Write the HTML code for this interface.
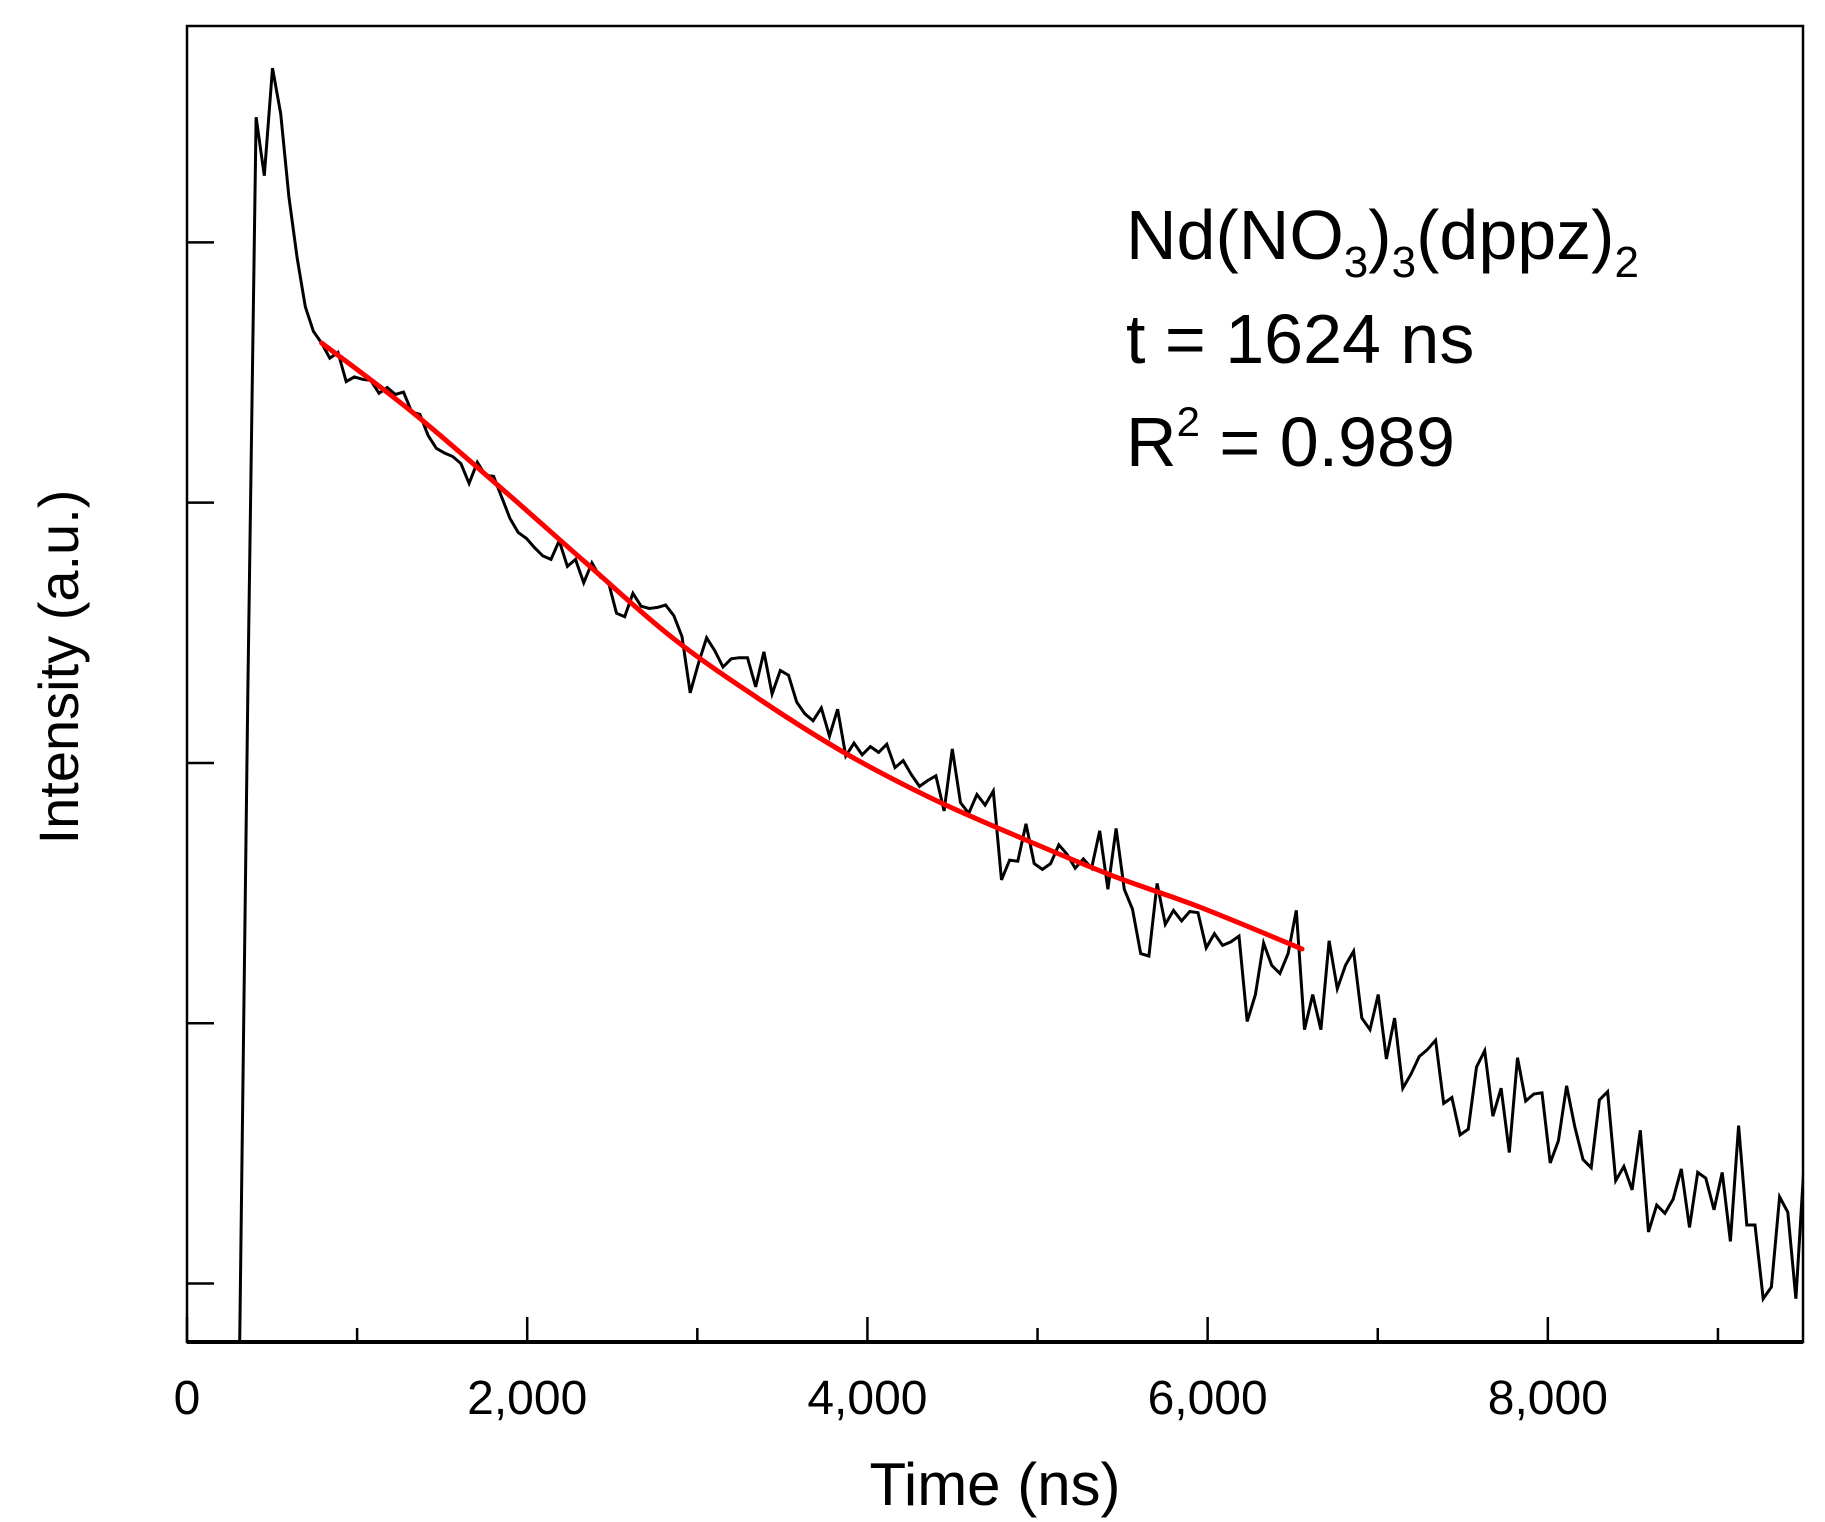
<!DOCTYPE html>
<html><head><meta charset="utf-8"><style>
html,body{margin:0;padding:0;background:#fff;}
svg{display:block;font-family:"Liberation Sans",Arial,sans-serif;}
</style></head><body>
<svg id="chart" width="1825" height="1522" viewBox="0 0 1825 1522">
  <g id="plot"></g>
  <g id="axes"></g>
  <text x="995" y="1505" font-size="60" text-anchor="middle">Time (ns)</text>
  <text transform="translate(78,667) rotate(-90)" font-size="56" text-anchor="middle">Intensity (a.u.)</text>
  <g font-size="70">
    <text x="1126" y="259">Nd(NO<tspan font-size="44" dy="18">3</tspan><tspan dy="-18">)</tspan><tspan font-size="44" dy="18">3</tspan><tspan dy="-18">(dppz)</tspan><tspan font-size="44" dy="18">2</tspan></text>
    <text x="1126" y="363">t = 1624 ns</text>
    <text x="1126" y="466">R<tspan font-size="42" dy="-30">2</tspan><tspan dy="30"> = 0.989</tspan></text>
  </g>
</svg>
<script>
// ---- data ----
const startNs = 310;
const stepNs = 48.15;
const intensity = [0,560,1047,997,1089,1050,979,927,885,864,854,841,846,821,825,823,822,811,816,810,812,795,793,775,764,760,757,751,734,752,741,740,722,704,692,687,679,672,669,685,663,669,649,666,654,650,623,620,640,629,627,628,630,621,603,555,580,602,591,577,584,585,585,560,590,554,574,570,547,537,531,542,518,541,501,512,502,509,504,511,491,497,485,475,480,484,454,507,461,452,468,459,471,395,412,411,443,409,404,409,425,417,405,413,405,437,387,439,387,370,332,330,392,357,369,360,368,367,337,349,339,342,347,274,297,341,322,315,332,369,267,297,267,343,302,322,334,277,267,297,242,277,217,229,244,250,258,204,209,177,182,235,249,193,217,162,243,206,212,213,153,172,219,184,156,149,207,214,138,150,130,181,94,117,110,122,148,98,145,140,113,145,86,185,100,100,37,47,124,111,37,153];
const fitTimes = [791,1307,1823,2338,2854,3370,3886,4402,4918,5434,5950,6555];
const fitValues = [854,797,733,667,602,549,502,463,430,399,372,336];
const xTickValues = [0,1000,2000,3000,4000,5000,6000,7000,8000,9000];
const xTickLabels = ["0","","2,000","","4,000","","6,000","","8,000",""];
const yTickValues = [50,272.5,495,717.5,940];

// ---- scales ----
const L=187,R=1803,T=26,B=1342;
const xMax=9500, yMin=0, yMax=1125;
const xs=t=>L+(t/xMax)*(R-L);
const ys=v=>B-((v-yMin)/(yMax-yMin))*(B-T);
const NS='http://www.w3.org/2000/svg';
const plot=document.getElementById('plot');
const axes=document.getElementById('axes');

const defs=document.createElementNS(NS,'defs');
defs.innerHTML='<clipPath id="clip"><rect x="'+L+'" y="'+T+'" width="'+(R-L)+'" height="'+(B-T)+'"/></clipPath>';
document.getElementById('chart').prepend(defs);
plot.setAttribute('clip-path','url(#clip)');

const pts=intensity.map((v,i)=>xs(startNs+i*stepNs).toFixed(1)+','+ys(v).toFixed(1)).join(' ');
const data=document.createElementNS(NS,'polyline');
data.setAttribute('points',pts);
data.setAttribute('fill','none');
data.setAttribute('stroke','#000');
data.setAttribute('stroke-width','3');
data.setAttribute('stroke-linejoin','miter');


plot.appendChild(data);

// smooth fit path (Catmull-Rom to Bezier)
const fp=fitTimes.map((t,i)=>[xs(t),ys(fitValues[i])]);
let d='M'+fp[0][0].toFixed(1)+','+fp[0][1].toFixed(1);
for(let i=0;i<fp.length-1;i++){
  const p0=fp[Math.max(0,i-1)],p1=fp[i],p2=fp[i+1],p3=fp[Math.min(fp.length-1,i+2)];
  const c1=[p1[0]+(p2[0]-p0[0])/6,p1[1]+(p2[1]-p0[1])/6];
  const c2=[p2[0]-(p3[0]-p1[0])/6,p2[1]-(p3[1]-p1[1])/6];
  d+=' C'+c1[0].toFixed(1)+','+c1[1].toFixed(1)+' '+c2[0].toFixed(1)+','+c2[1].toFixed(1)+' '+p2[0].toFixed(1)+','+p2[1].toFixed(1);
}
const fit=document.createElementNS(NS,'path');
fit.setAttribute('d',d);
fit.setAttribute('fill','none');
fit.setAttribute('stroke','#ff0000');
fit.setAttribute('stroke-width','5');
fit.setAttribute('stroke-linecap','round');


plot.appendChild(fit);

const frame=document.createElementNS(NS,'rect');
frame.setAttribute('x',L);frame.setAttribute('y',T);
frame.setAttribute('width',R-L);frame.setAttribute('height',B-T);
frame.setAttribute('fill','none');frame.setAttribute('stroke','#000');frame.setAttribute('stroke-width','2.5');


axes.appendChild(frame);
const bottom=document.createElementNS(NS,'line');
bottom.setAttribute('x1',L);bottom.setAttribute('x2',R);bottom.setAttribute('y1',B);bottom.setAttribute('y2',B);
bottom.setAttribute('stroke','#000');bottom.setAttribute('stroke-width','4');


axes.appendChild(bottom);

xTickValues.forEach((v,i)=>{
  const major=i%2===0;
  const ln=document.createElementNS(NS,'line');
  ln.setAttribute('x1',xs(v));ln.setAttribute('x2',xs(v));
  ln.setAttribute('y1',B);ln.setAttribute('y2',B-(major?25:14));
  ln.setAttribute('stroke','#000');ln.setAttribute('stroke-width','2.5');
  
  
  axes.appendChild(ln);
  if(xTickLabels[i]){
    const tx=document.createElementNS(NS,'text');
    tx.setAttribute('x',xs(v));tx.setAttribute('y',B+72);
    tx.setAttribute('font-size','48');tx.setAttribute('text-anchor','middle');
    tx.textContent=xTickLabels[i];
    
    
    axes.appendChild(tx);
  }
});
yTickValues.forEach(v=>{
  const ln=document.createElementNS(NS,'line');
  ln.setAttribute('x1',L);ln.setAttribute('x2',L+27);
  ln.setAttribute('y1',ys(v));ln.setAttribute('y2',ys(v));
  ln.setAttribute('stroke','#000');ln.setAttribute('stroke-width','2.5');
  
  
  axes.appendChild(ln);
});
</script>
</body></html>
